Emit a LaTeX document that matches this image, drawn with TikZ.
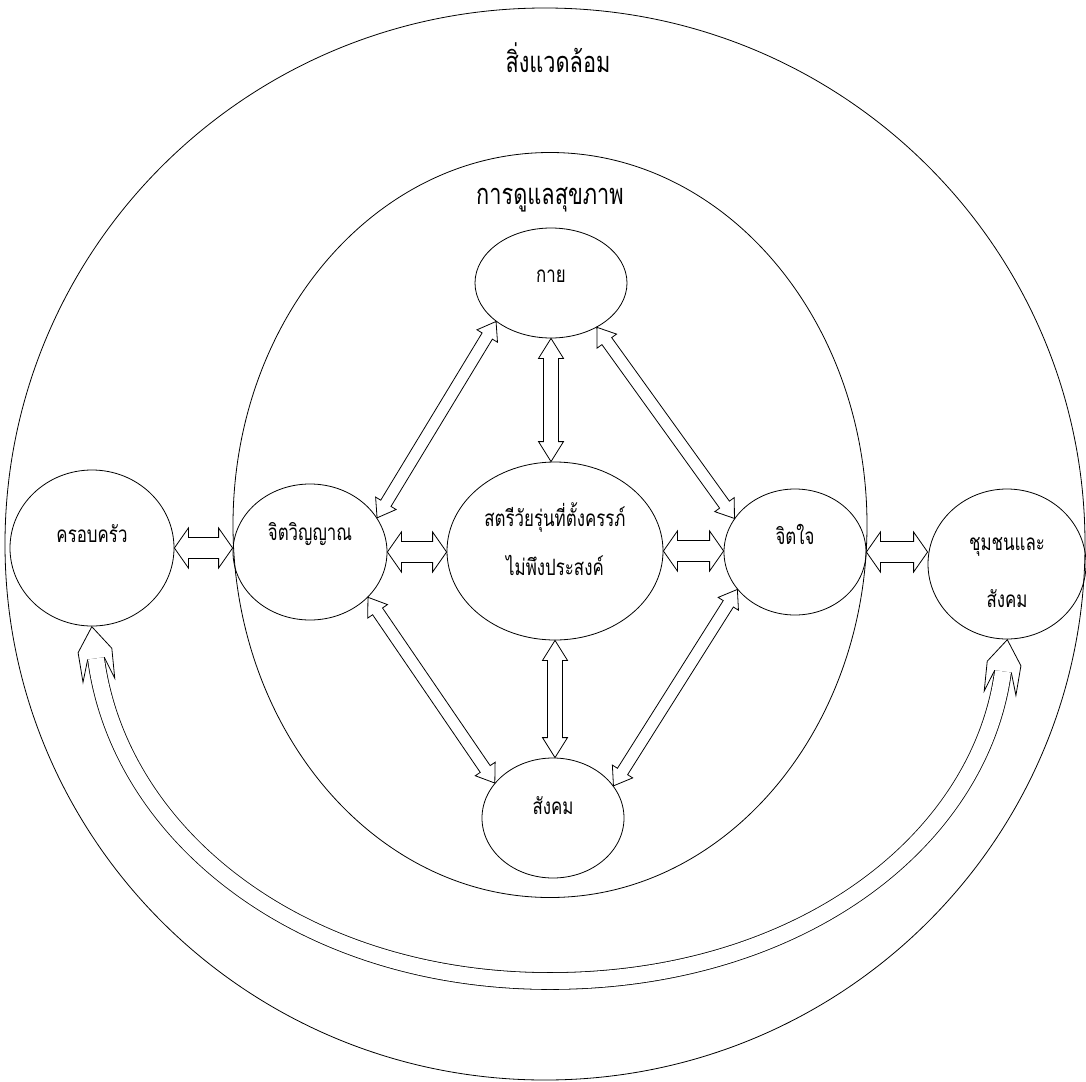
\documentclass[tikz,border=0pt]{standalone}
\usepackage{fontspec}
\setmainfont{Loma}[Script=Thai, FakeStretch=0.75]
\usepackage{tikz}
\usetikzlibrary{shapes.geometric,calc}

\begin{document}
\begin{tikzpicture}[
  x=1pt, y=-1pt, line width=0.8pt,
  ring/.style={draw, ellipse, inner sep=0pt},
  bub/.style={draw, ellipse, inner sep=0pt, font=\fontsize{22.5}{26}\selectfont, text height=0pt, align=center},
  ttl/.style={font=\fontsize{29}{34}\selectfont},
  % hollow double-headed block arrow: head length, head half width, shaft half width
  blk/.style n args={3}{to path={
    -- ($(\tikztostart)!#1!(\tikztotarget)!#2!90:(\tikztotarget)$)
    -- ($(\tikztostart)!#1!(\tikztotarget)!#3!90:(\tikztotarget)$)
    -- ($(\tikztotarget)!#1!(\tikztostart)!#3!-90:(\tikztostart)$)
    -- ($(\tikztotarget)!#1!(\tikztostart)!#2!-90:(\tikztostart)$)
    -- (\tikztotarget)
    -- ($(\tikztotarget)!#1!(\tikztostart)!#2!90:(\tikztostart)$)
    -- ($(\tikztotarget)!#1!(\tikztostart)!#3!90:(\tikztostart)$)
    -- ($(\tikztostart)!#1!(\tikztotarget)!#3!-90:(\tikztotarget)$)
    -- ($(\tikztostart)!#1!(\tikztotarget)!#2!-90:(\tikztotarget)$)
    -- cycle}},
  wide/.style={blk={14pt}{20pt}{10.5pt}},
  tall/.style={blk={20pt}{12.5pt}{7.5pt}},
  slant/.style={blk={17pt}{12pt}{6pt}},
  band/.style={double=white, double distance=16pt}
]
\useasboundingbox (0,0) rectangle (1086,1081);

% rings
\node[ring, minimum width=1080pt, minimum height=1072pt] (env) at (545,544) {};
\node[ring, minimum width=634pt, minimum height=745pt] (care) at (550,525) {};
\node[ttl] (envt) at (558,58) {สิ่งแวดล้อม};
\node[ttl] (caret) at (550,200) {การดูแลสุขภาพ};

% bubbles
\node[bub, minimum width=164pt, minimum height=156pt, text depth=12pt] (fam) at (92,548) {ครอบครัว};
\node[bub, minimum width=154pt, minimum height=136pt, text depth=24pt] (spirit) at (310,552) {จิตวิญญาณ};
\node[bub, minimum width=216pt, minimum height=178pt, text height=48pt, text depth=0pt, font=\fontsize{22.5}{49}\selectfont] (teen) at (555,551) {สตรีวัยรุ่นที่ตั้งครรภ์\\ไม่พึงประสงค์};
\node[bub, minimum width=142pt, minimum height=126pt, text depth=16pt] (mind) at (795,552) {จิตใจ};
\node[bub, minimum width=158pt, minimum height=150pt, text height=86pt, text depth=0pt, font=\fontsize{22.5}{57}\selectfont] (comm) at (1007,564) {ชุมชนและ\\สังคม};
\node[bub, minimum width=152pt, minimum height=110pt, text depth=2pt] (body) at (551,283) {กาย};
\node[bub, minimum width=142pt, minimum height=120pt, text depth=8pt] (social) at (553,818) {สังคม};

% straight links
\draw[wide] (fam.east) to (fam.east -| spirit.west);
\draw[wide] (spirit.east) to (spirit.east -| teen.west);
\draw[wide] (teen.east) to (teen.east -| mind.west);
\draw[wide] (mind.east) to (mind.east -| comm.west);
\draw[tall] (body.south) to (body.south |- teen.north);
\draw[tall] (teen.south) to (teen.south |- social.north);
\draw[slant] (body.215) to (spirit.27);
\draw[slant] (body.316) to (mind.151);
\draw[slant] (spirit.322) to (social.149);
\draw[slant] (mind.213) to (social.28);

% curved link family <-> community
\coordinate (lbase) at ($(fam.south)+(4,32)$);
\coordinate (rbase) at ($(comm.south)+(-4,32)$);
\coordinate (low) at (550,981);
\draw[band] (lbase) .. controls +(23,176) and +(-250,0) .. (low)
  .. controls +(250,0) and +(-23,170) .. (rbase);
\begin{scope}[shift={(lbase)}, rotate=97.5]
  \draw (0,8.4) -- (-22,16) -- (8,17) -- (32,0) -- (8,-17) -- (-22,-16) -- (0,-8.4);
\end{scope}
\begin{scope}[shift={(rbase)}, rotate=82.3]
  \draw (0,8.4) -- (-22,16) -- (8,17) -- (32,0) -- (8,-17) -- (-22,-16) -- (0,-8.4);
\end{scope}

\end{tikzpicture}
\end{document}
